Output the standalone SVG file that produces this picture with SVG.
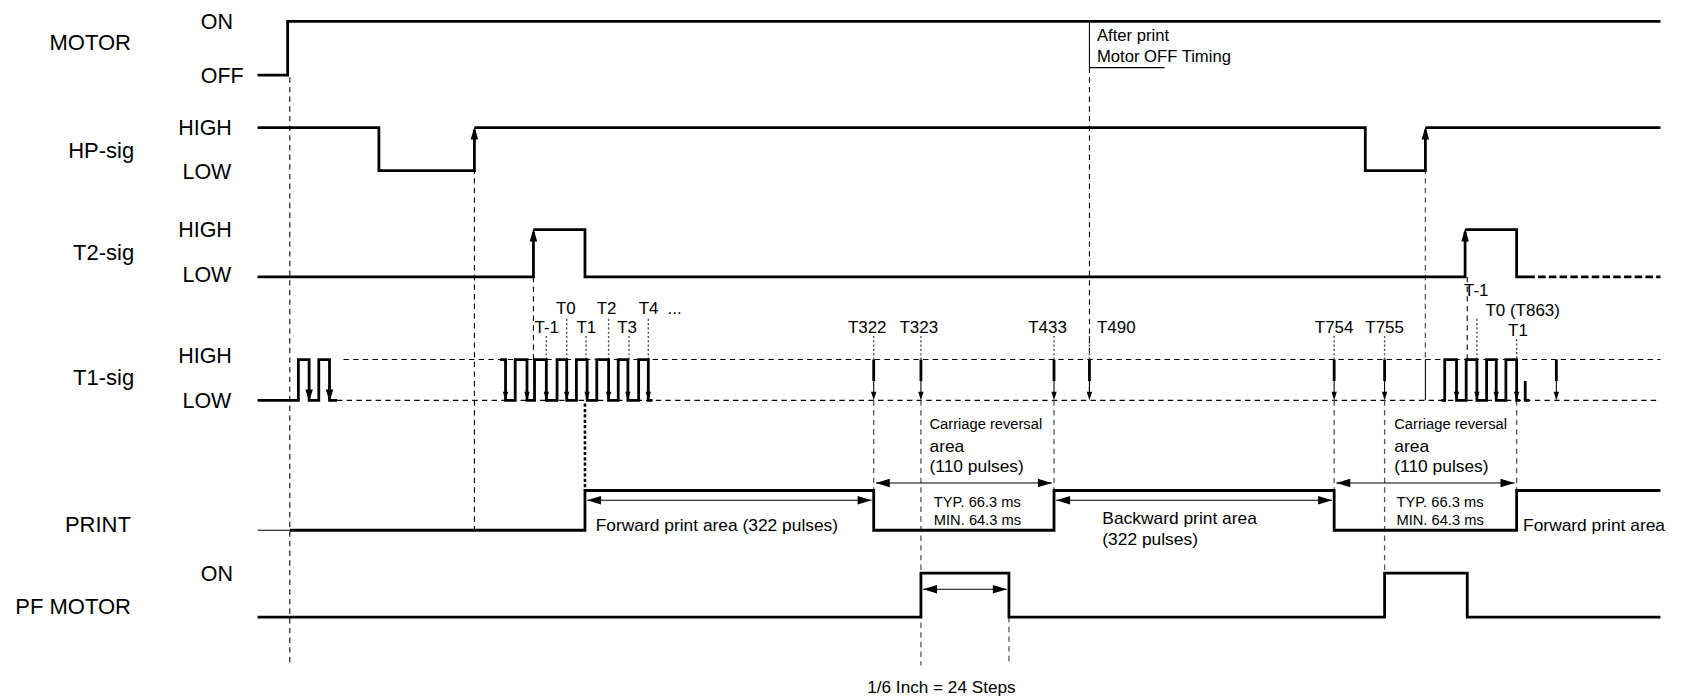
<svg xmlns="http://www.w3.org/2000/svg" xmlns:xlink="http://www.w3.org/1999/xlink" width="1683" height="700" viewBox="0 0 1683 700">
<style>
.sig{fill:none;stroke:#000;stroke-width:2.6;stroke-linejoin:miter}
.thin{fill:none;stroke:#000;stroke-width:1}
.dash{fill:none;stroke:#000;stroke-width:1;stroke-dasharray:5 4}
.gdash{fill:none;stroke:#555;stroke-width:1.2;stroke-dasharray:5 4}
.dot{fill:none;stroke:#555;stroke-width:1.3;stroke-dasharray:2 2}
.bdot{fill:none;stroke:#000;stroke-width:2.4;stroke-dasharray:3 2}
.tk{fill:none;stroke:#000;stroke-width:2.6}
.ah{fill:#000;stroke:none}
text{font-family:"Liberation Sans",Arial,sans-serif;fill:#000}
.lb{font-size:20.5px}
.lv{font-size:20px}
.tl{font-size:15.8px}
.sm{font-size:13.7px}
.md{font-size:16.2px}
</style>
<defs>
<path id="upA" class="ah" d="M0,0 L-3.5,12 L3.5,12Z"/>
<path id="dnA" class="ah" d="M0,0 L-2.5,-8 L2.5,-8Z"/>
<path id="dnB" class="ah" d="M0,0 L-3.5,-11 L3.5,-11Z"/>
<path id="lA" class="ah" d="M0,0 L13,-4 L13,4Z"/>
<path id="rA" class="ah" d="M0,0 L-13,-4 L-13,4Z"/>
</defs>
<rect width="1683" height="700" fill="#fff"/>
<g transform="scale(1.07334)">
<g id="labels">
<text class="lb" x="122" y="47" text-anchor="end">MOTOR</text>
<text class="lb" x="125" y="147" text-anchor="end">HP-sig</text>
<text class="lb" x="125" y="242" text-anchor="end">T2-sig</text>
<text class="lb" x="125" y="359" text-anchor="end">T1-sig</text>
<text class="lb" x="122" y="496" text-anchor="end">PRINT</text>
<text class="lb" x="122" y="572" text-anchor="end">PF MOTOR</text>
<text class="lv" x="187" y="27">ON</text>
<text class="lv" x="187" y="77">OFF</text>
<text class="lv" x="166" y="126">HIGH</text>
<text class="lv" x="170" y="167">LOW</text>
<text class="lv" x="166" y="221">HIGH</text>
<text class="lv" x="170" y="263">LOW</text>
<text class="lv" x="166" y="338">HIGH</text>
<text class="lv" x="170" y="380">LOW</text>
<text class="lv" x="187" y="541">ON</text>
</g>
<g id="connectors">
<path class="dash" d="M270,72 V620"/>
<path class="dash" d="M442,130 V494"/>
<path class="dash" d="M497,258 V335"/>
<path class="dash" d="M1015,63 V365"/>
<path class="gdash" d="M1328,130 V335"/>
<path class="thin" d="M1328,335 V373" stroke="#777"/>
<path class="dash" d="M1367,258 V335"/>
<path class="dash" d="M320,335 H1547"/>
<path class="dash" d="M314,373 H1547"/>
<path class="bdot" d="M545,376 V457"/>
<path class="gdash" d="M814,373 V457"/>
<path class="gdash" d="M858,373 V620"/>
<path class="gdash" d="M982,373 V457"/>
<path class="gdash" d="M1243,373 V457"/>
<path class="gdash" d="M1290,373 V534"/>
<path class="gdash" d="M1413,373 V457"/>
<path class="gdash" d="M940,575 V620"/>
<path class="dot" d="M509,313 V335 M528,297 V335 M546,313 V335 M567,297 V335 M586,313 V335 M604,297 V335"/>
<path class="dot" d="M814,313 V335 M858,313 V335 M982,313 V335 M1015,313 V335 M1243,313 V335 M1290,313 V335 M1376,297 V335 M1413,316 V335"/>
</g>
<g id="motor">
<path class="sig" d="M240,70 H268 V20 H1547"/>
<path class="thin" d="M1015,20 V63 H1085"/>
<text x="1022" y="38" style="font-size:15.5px">After print</text>
<text x="1022" y="58" style="font-size:15.5px">Motor OFF Timing</text>
</g>
<g id="hp-sig">
<path class="sig" d="M240,119 H353 V159 H442 V121 M442,119 H1272 V159 H1328 V121 M1328,119 H1547"/>
<use xlink:href="#upA" x="442" y="118"/>
<use xlink:href="#upA" x="1328" y="118"/>
</g>
<g id="t2-sig">
<path class="sig" d="M240,258 H497 V216 M497,214 H545 V258 H1365 V216 M1365,214 H1413 V258 H1430"/>
<path class="tk" d="M1433,258 H1547" stroke-dasharray="7 3"/>
<use xlink:href="#upA" x="497" y="213"/>
<use xlink:href="#upA" x="1365" y="213"/>
</g>
<g id="t1-sig">
<path class="sig" d="M240,373 H278 V335 H288 V373 H297 V335 H307 V373 H314"/>
<use xlink:href="#dnB" x="288" y="374"/>
<use xlink:href="#dnB" x="307" y="374"/>
<path class="sig" d="M466,335 H471 V373 H480 V335 H491 V373 H498 V335 H509 V373 H519 V335 H528 V373 H537 V335 H547 V373 H556 V335 H567 V373 H576 V335 H585 V373 H595 V335 H604 V373 H608"/>
<use xlink:href="#dnA" x="471" y="373"/>
<use xlink:href="#dnA" x="491" y="373"/>
<use xlink:href="#dnA" x="509" y="373"/>
<use xlink:href="#dnA" x="528" y="373"/>
<use xlink:href="#dnA" x="547" y="373"/>
<use xlink:href="#dnA" x="567" y="373"/>
<use xlink:href="#dnA" x="585" y="373"/>
<use xlink:href="#dnA" x="604" y="373"/>
<path class="sig" d="M1343,373 H1346 V335 H1357 V373 H1366 V335 H1376 V373 H1385 V335 H1394 V373 H1403 V335 H1413 V373 H1416"/>
<path class="sig" d="M1421,355 V373 H1425"/>
<use xlink:href="#dnA" x="1357" y="373"/>
<use xlink:href="#dnA" x="1376" y="373"/>
<use xlink:href="#dnA" x="1394" y="373"/>
<use xlink:href="#dnA" x="1413" y="373"/>
<path class="tk" d="M814,335 V355 M858,335 V355 M982,335 V355 M1015,335 V355 M1243,335 V355 M1290,335 V355 M1450,335 V355"/>
<path class="thin" d="M814,355 V366 M858,355 V366 M982,355 V366 M1015,355 V366 M1243,355 V366 M1290,355 V366 M1450,355 V366"/>
<use xlink:href="#dnA" x="814" y="373"/>
<use xlink:href="#dnA" x="858" y="373"/>
<use xlink:href="#dnA" x="982" y="373"/>
<use xlink:href="#dnA" x="1015" y="373"/>
<use xlink:href="#dnA" x="1243" y="373"/>
<use xlink:href="#dnA" x="1290" y="373"/>
<use xlink:href="#dnA" x="1450" y="373"/>
<text class="tl" x="498" y="310">T-1</text>
<text class="tl" x="518" y="293">T0</text>
<text class="tl" x="537" y="310">T1</text>
<text class="tl" x="556" y="293">T2</text>
<text class="tl" x="575" y="310">T3</text>
<text class="tl" x="595" y="293">T4</text>
<text class="tl" x="622" y="293">...</text>
<text class="tl" x="790" y="310">T322</text>
<text class="tl" x="838" y="310">T323</text>
<text class="tl" x="958" y="310">T433</text>
<text class="tl" x="1022" y="310">T490</text>
<text class="tl" x="1225" y="310">T754</text>
<text class="tl" x="1272" y="310">T755</text>
<text class="tl" x="1364" y="276">T-1</text>
<text class="tl" x="1384" y="294">T0 (T863)</text>
<text class="tl" x="1405" y="313">T1</text>
</g>
<g id="print">
<path class="thin" d="M240,494 H270"/>
<path class="sig" d="M270,494 H545 V457 H814 V494 H982 V457 H1243 V494 H1413 V457 H1547"/>
<path class="thin" d="M547,466 H812"/>
<use xlink:href="#lA" x="547" y="466"/>
<use xlink:href="#rA" x="812" y="466"/>
<text class="md" x="555" y="495">Forward print area (322 pulses)</text>
<path class="thin" d="M816,450 H980"/>
<use xlink:href="#lA" x="816" y="450"/>
<use xlink:href="#rA" x="980" y="450"/>
<text class="sm" x="866" y="400">Carriage reversal</text>
<text class="md" x="866" y="421">area</text>
<text class="md" x="866" y="440">(110 pulses)</text>
<text class="sm" x="870" y="472">TYP. 66.3 ms</text>
<text class="sm" x="870" y="489">MIN. 64.3 ms</text>
<path class="thin" d="M984,466 H1241"/>
<use xlink:href="#lA" x="984" y="466"/>
<use xlink:href="#rA" x="1241" y="466"/>
<text class="md" x="1027" y="488">Backward print area</text>
<text class="md" x="1027" y="508">(322 pulses)</text>
<path class="thin" d="M1245,450 H1411"/>
<use xlink:href="#lA" x="1245" y="450"/>
<use xlink:href="#rA" x="1411" y="450"/>
<text class="sm" x="1299" y="400">Carriage reversal</text>
<text class="md" x="1299" y="421">area</text>
<text class="md" x="1299" y="440">(110 pulses)</text>
<text class="sm" x="1301" y="472">TYP. 66.3 ms</text>
<text class="sm" x="1301" y="489">MIN. 64.3 ms</text>
<text class="md" x="1419" y="495">Forward print area</text>
</g>
<g id="pf-motor">
<path class="sig" d="M240,575 H858 V534 H940 V575 H1290 V534 H1367 V575 H1547"/>
<path class="thin" d="M860,549 H938"/>
<use xlink:href="#lA" x="860" y="549"/>
<use xlink:href="#rA" x="938" y="549"/>
<text x="808" y="646" style="font-size:16px">1/6 Inch = 24 Steps</text>
</g>
</g>
</svg>
